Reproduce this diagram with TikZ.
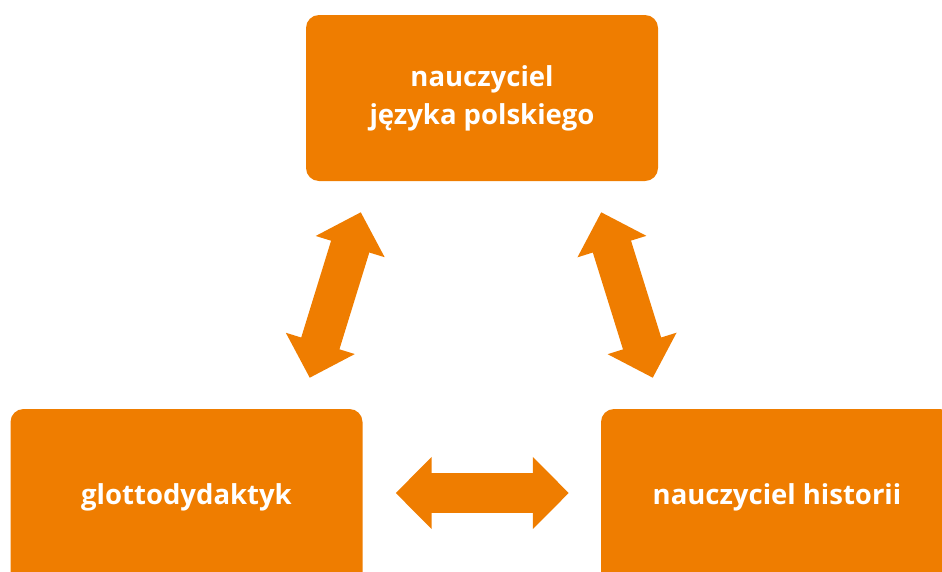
\documentclass[tikz,border=0pt]{standalone}
\usepackage{fontspec}
\setmainfont{Open Sans}
\usepackage{tikz}
\usetikzlibrary{arrows.meta,positioning}
\definecolor{brand}{RGB}{239,125,0}

\begin{document}
\begin{tikzpicture}[
    x=1pt, y=-1pt,
    font=\bfseries\fontsize{27.5}{38}\selectfont,
    role/.style={fill=brand, text=white, rounded corners=13pt, minimum width=352pt, minimum height=166pt, align=center, inner sep=0pt},
    bigarrow/.style={draw=brand, line width=40pt, {Triangle[length=36pt,width=70pt]}-{Triangle[length=36pt,width=70pt]}}
]
\useasboundingbox (0,0) rectangle (942,571);
\node[role] (polski) at (482,98) {nauczyciel\\języka polskiego};
\node[role, minimum height=176pt] (glotto) at (186.5,497) {glottodydaktyk};
\node[role, minimum height=176pt] (hist) at (777,497) {nauczyciel historii};

\draw[bigarrow] ([shift={(33,-4)}]glotto.east) -- ([shift={(-32,-4)}]hist.west);
\draw[bigarrow] ([shift={(55,31)}]polski.south west) -- ([shift={(-53,-31)}]glotto.north east);
\draw[bigarrow] ([shift={(-57,31)}]polski.south east) -- ([shift={(52,-31)}]hist.north west);
\end{tikzpicture}
\end{document}
